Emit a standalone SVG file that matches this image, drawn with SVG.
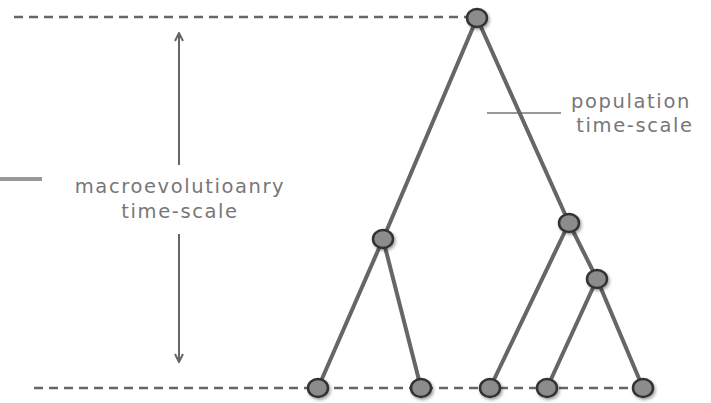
<svg xmlns="http://www.w3.org/2000/svg" width="711" height="403" viewBox="0 0 711 403">
<style>
.dash{stroke:#666;stroke-width:2.5;stroke-dasharray:9 6;fill:none}
.edge{stroke:#666;stroke-width:4;stroke-linecap:round;fill:none}
.node{fill:#8c8c8c;stroke:#333;stroke-width:2.5;filter:url(#sh)}
.lbl{font-family:"DejaVu Sans",sans-serif;font-size:19.5px;letter-spacing:1.6px;fill:#777;text-anchor:middle}
.arr{stroke:#666;stroke-width:2;fill:none}
.tick{stroke:#999;fill:none}
</style>
<defs>
<filter id="sh" x="-50%" y="-50%" width="200%" height="200%">
<feDropShadow dx="1.5" dy="2" stdDeviation="1.5" flood-color="#000" flood-opacity="0.35"/>
</filter>
<marker id="ah" viewBox="0 0 10 10" refX="9" refY="5" markerWidth="10" markerHeight="10" markerUnits="userSpaceOnUse" orient="auto">
<path d="M1,1 L9,5 L1,9" fill="none" stroke="#666" stroke-width="2"/>
</marker>
</defs>
<g id="guides">
<line class="dash" x1="14" y1="17" x2="470" y2="17"/>
<line class="dash" x1="34" y1="388" x2="645" y2="388"/>
<line class="tick" x1="0" y1="179" x2="42" y2="179" stroke-width="4"/>
<line class="tick" x1="487" y1="113" x2="561" y2="113" stroke-width="2"/>
</g>
<g id="arrows">
<line class="arr" x1="179" y1="165" x2="179" y2="33" marker-end="url(#ah)"/>
<line class="arr" x1="179" y1="234" x2="179" y2="362" marker-end="url(#ah)"/>
</g>
<g id="connectors">
<line class="edge" x1="477" y1="18" x2="383" y2="239"/>
<line class="edge" x1="477" y1="18" x2="569" y2="223"/>
<line class="edge" x1="383" y1="239" x2="318" y2="388"/>
<line class="edge" x1="383" y1="239" x2="421" y2="388"/>
<line class="edge" x1="569" y1="223" x2="490" y2="388"/>
<line class="edge" x1="569" y1="223" x2="597" y2="279"/>
<line class="edge" x1="597" y1="279" x2="547" y2="388"/>
<line class="edge" x1="597" y1="279" x2="643" y2="388"/>
</g>
<g id="root"><ellipse class="node" cx="477" cy="18" rx="10" ry="9"/></g>
<g id="n-left"><ellipse class="node" cx="383" cy="239" rx="10" ry="9"/></g>
<g id="n-right"><ellipse class="node" cx="569" cy="223" rx="10" ry="9"/></g>
<g id="n-rr"><ellipse class="node" cx="597" cy="279" rx="10" ry="9"/></g>
<g id="leaf1"><ellipse class="node" cx="318" cy="388" rx="10" ry="9"/></g>
<g id="leaf2"><ellipse class="node" cx="421" cy="388" rx="10" ry="9"/></g>
<g id="leaf3"><ellipse class="node" cx="490" cy="388" rx="10" ry="9"/></g>
<g id="leaf4"><ellipse class="node" cx="547" cy="388" rx="10" ry="9"/></g>
<g id="leaf5"><ellipse class="node" cx="643" cy="388" rx="10" ry="9"/></g>
<g id="label-macro">
<text class="lbl" x="180" y="193">macroevolutioanry</text>
<text class="lbl" x="180" y="218">time-scale</text>
</g>
<g id="label-pop">
<text class="lbl" x="631" y="108">population</text>
<text class="lbl" x="635" y="132">time-scale</text>
</g>
</svg>
